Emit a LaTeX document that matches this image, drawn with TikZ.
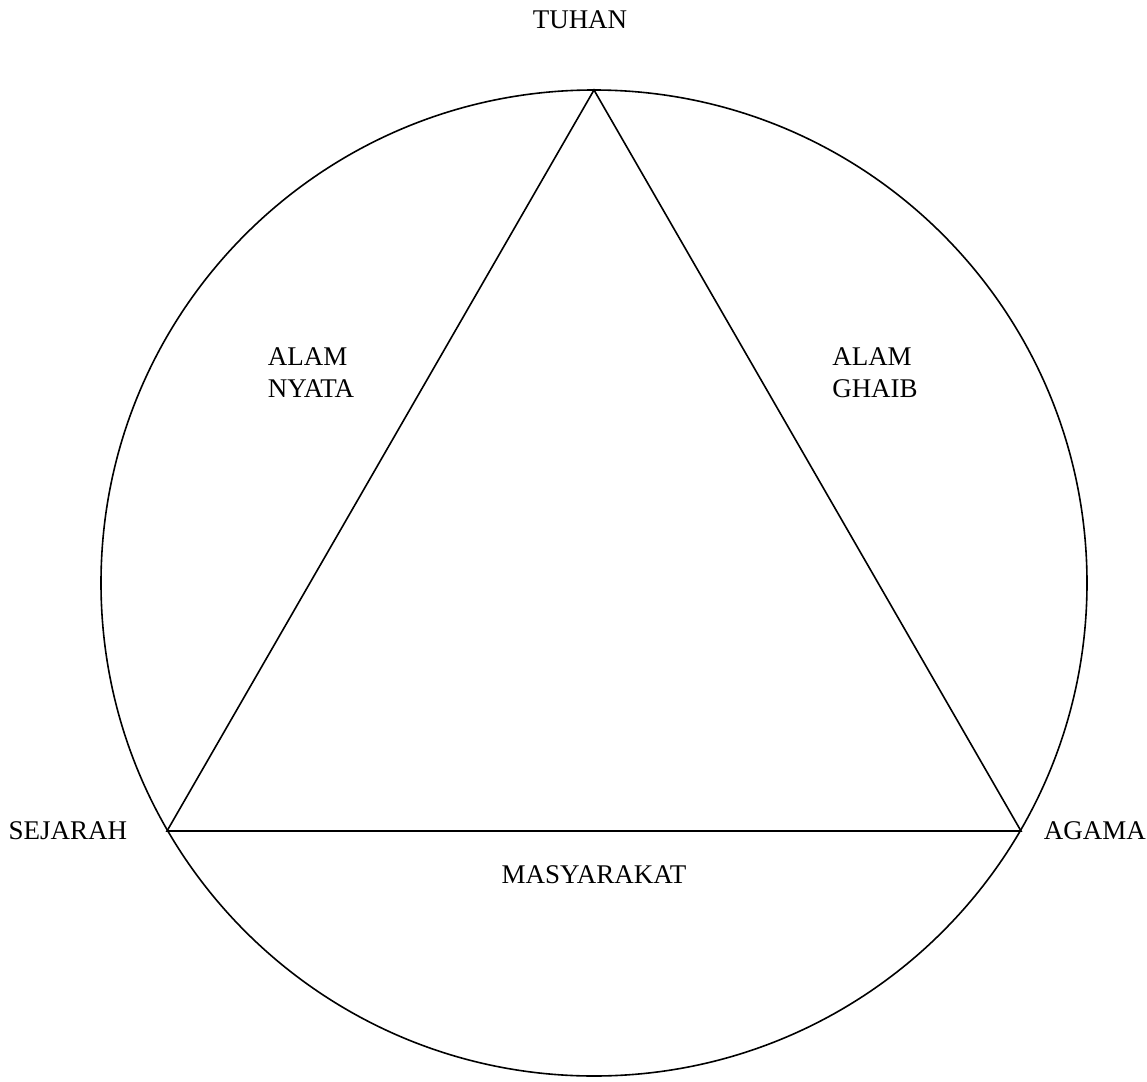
\documentclass[tikz,border=0pt]{standalone}
\usepackage{fontspec}
\setmainfont{Liberation Serif}
\usepackage{tikz}
\usetikzlibrary{positioning}

\begin{document}
\begin{tikzpicture}[
    x=0.5pt, y=-0.5pt,
    thick,
    line width=0.8pt,
    lbl/.style={inner sep=0pt, font=\fontsize{13.5}{16}\selectfont},
    area/.style={lbl, align=left}
]
\useasboundingbox (0,0) rectangle (1147,1082);

% Circle and vertices
\coordinate (centre) at (594,583);
\draw (centre) circle[radius=493];
\coordinate (tuhan) at (594,90);
\coordinate (sejarah) at (167,831);
\coordinate (agama) at (1021,831);
\coordinate (base) at (594,831);

% Nodes
\node (labTuhan) [lbl, above=30pt of tuhan, xshift=-7pt] {TUHAN};
\node (labSejarah) [lbl, left=19.5pt of sejarah] {SEJARAH};
\node (labAgama) [lbl, right=11pt of agama] {AGAMA};
\node (labMasyarakat) [lbl, below=17pt of base] {MASYARAKAT};
\node (nyata) [area] at (311,373) {ALAM\\NYATA};
\node (ghaib) [area] at (875,373) {ALAM\\GHAIB};

% Triangle
\draw (tuhan) -- (sejarah) -- (agama) -- cycle;

\end{tikzpicture}
\end{document}
